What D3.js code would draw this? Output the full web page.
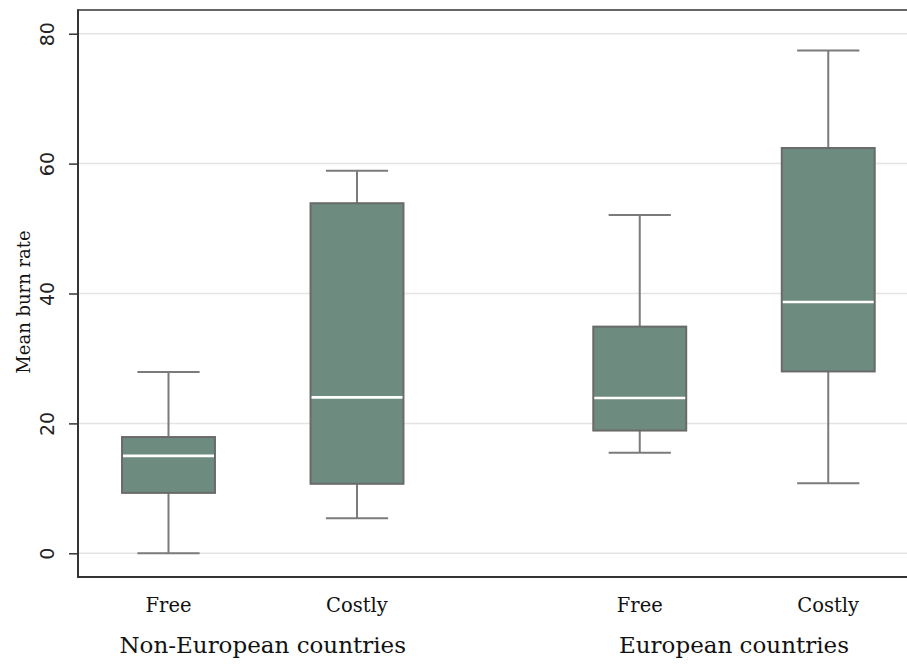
<!DOCTYPE html>
<html>
<head>
<meta charset="utf-8">
<script src="https://cdn.jsdelivr.net/npm/d3@7"></script>
<style>
  html, body { margin: 0; padding: 0; background: #fff; }
  svg { display: block; }
</style>
</head>
<body>
<svg id="chart" width="907" height="664"></svg>
<script>
// Box plot of mean burn rate by cost condition, split by region
const groups = ["Non-European countries", "European countries"];
const conditions = ["Free", "Costly"];
const boxGroup = [0, 0, 1, 1];
const boxCondition = [0, 1, 0, 1];
const boxPosition = [0, 1, 2.5, 3.5];
const lowerWhisker = [0, 5.4, 15.5, 10.8];
const q1 = [9.3, 10.7, 18.9, 28.0];
const median = [15.0, 24.0, 23.9, 38.7];
const q3 = [17.9, 53.9, 34.9, 62.4];
const upperWhisker = [27.9, 58.9, 52.1, 77.4];
const yTicks = [0, 20, 40, 60, 80];

const svg = d3.select("#chart");
const plot = { left: 78, right: 908, top: 10, bottom: 577 };
const serif = "'DejaVu Serif', 'Liberation Serif', serif";

const y = d3.scaleLinear().domain([0, 80]).range([553.3, 33.7]);
const x = d3.scaleLinear().domain([0, 3.5]).range([168.5, 828.25]);
const unit = x(1) - x(0);
const boxW = unit * 0.493;
const capW = unit * 0.33;

const fill = "#6e8b7f";
const boxStroke = "#6a6a6a";
const whiskerColor = "#7b7b7b";

// gridlines
svg.append("g")
  .selectAll("line")
  .data(yTicks)
  .join("line")
  .attr("x1", plot.left).attr("x2", plot.right)
  .attr("y1", d => y(d)).attr("y2", d => y(d))
  .attr("stroke", "#e4e4e4").attr("stroke-width", 1.5);

// frame top
svg.append("line")
  .attr("x1", plot.left).attr("x2", plot.right)
  .attr("y1", plot.top).attr("y2", plot.top)
  .attr("stroke", "#333").attr("stroke-width", 1.5);

// y axis
const yAxis = d3.axisLeft(y).tickValues(yTicks).tickSize(9).tickPadding(0).tickFormat(d3.format("d"));
const ya = svg.append("g").attr("transform", `translate(${plot.left},0)`).call(yAxis);
ya.select(".domain").remove();
ya.selectAll(".tick line").attr("stroke", "#333").attr("stroke-width", 1.5);
ya.selectAll(".tick text")
  .attr("transform", "rotate(-90)")
  .attr("x", 0).attr("y", -31)
  .attr("dy", "0.35em")
  .attr("text-anchor", "middle")
  .attr("fill", "#222")
  .style("font-family", "'DejaVu Sans', Verdana, sans-serif")
  .style("font-size", "19px");

svg.append("line")
  .attr("x1", plot.left).attr("x2", plot.left)
  .attr("y1", plot.top - 0.75).attr("y2", plot.bottom + 1)
  .attr("stroke", "#333").attr("stroke-width", 2);
svg.append("line")
  .attr("x1", plot.left - 1).attr("x2", plot.right)
  .attr("y1", plot.bottom).attr("y2", plot.bottom)
  .attr("stroke", "#333").attr("stroke-width", 2);

// y title
svg.append("text")
  .attr("transform", `translate(30,302) rotate(-90)`)
  .attr("text-anchor", "middle")
  .style("font-family", serif)
  .style("font-size", "18px")
  .attr("fill", "#111")
  .text("Mean burn rate");

// boxes
const idx = d3.range(boxPosition.length);
const boxes = svg.append("g").selectAll("g").data(idx).join("g");

boxes.append("line")
  .attr("x1", i => x(boxPosition[i])).attr("x2", i => x(boxPosition[i]))
  .attr("y1", i => y(upperWhisker[i])).attr("y2", i => y(q3[i]))
  .attr("stroke", whiskerColor).attr("stroke-width", 2);
boxes.append("line")
  .attr("x1", i => x(boxPosition[i])).attr("x2", i => x(boxPosition[i]))
  .attr("y1", i => y(q1[i])).attr("y2", i => y(lowerWhisker[i]))
  .attr("stroke", whiskerColor).attr("stroke-width", 2);
boxes.append("line")
  .attr("x1", i => x(boxPosition[i]) - capW / 2).attr("x2", i => x(boxPosition[i]) + capW / 2)
  .attr("y1", i => y(upperWhisker[i])).attr("y2", i => y(upperWhisker[i]))
  .attr("stroke", whiskerColor).attr("stroke-width", 2);
boxes.append("line")
  .attr("x1", i => x(boxPosition[i]) - capW / 2).attr("x2", i => x(boxPosition[i]) + capW / 2)
  .attr("y1", i => y(lowerWhisker[i])).attr("y2", i => y(lowerWhisker[i]))
  .attr("stroke", whiskerColor).attr("stroke-width", 2);
boxes.append("rect")
  .attr("x", i => x(boxPosition[i]) - boxW / 2)
  .attr("width", boxW)
  .attr("y", i => y(q3[i]))
  .attr("height", i => y(q1[i]) - y(q3[i]))
  .attr("fill", fill).attr("stroke", boxStroke).attr("stroke-width", 2);
boxes.append("line")
  .attr("x1", i => x(boxPosition[i]) - boxW / 2 + 1).attr("x2", i => x(boxPosition[i]) + boxW / 2 - 1)
  .attr("y1", i => y(median[i])).attr("y2", i => y(median[i]))
  .attr("stroke", "#ffffff").attr("stroke-width", 2.6);

// category labels
svg.append("g").selectAll("text").data(idx).join("text")
  .attr("x", i => x(boxPosition[i]))
  .attr("y", 612)
  .attr("text-anchor", "middle")
  .style("font-family", serif)
  .style("font-size", "19.5px")
  .attr("fill", "#111")
  .text(i => conditions[boxCondition[i]]);

// group labels
svg.append("g").selectAll("text").data(groups).join("text")
  .attr("x", (g, gi) => d3.mean(idx.filter(i => boxGroup[i] === gi), i => x(boxPosition[i])))
  .attr("y", 653)
  .attr("text-anchor", "middle")
  .style("font-family", serif)
  .style("font-size", "23px")
  .attr("fill", "#111")
  .text(g => g);
</script>
</body>
</html>
